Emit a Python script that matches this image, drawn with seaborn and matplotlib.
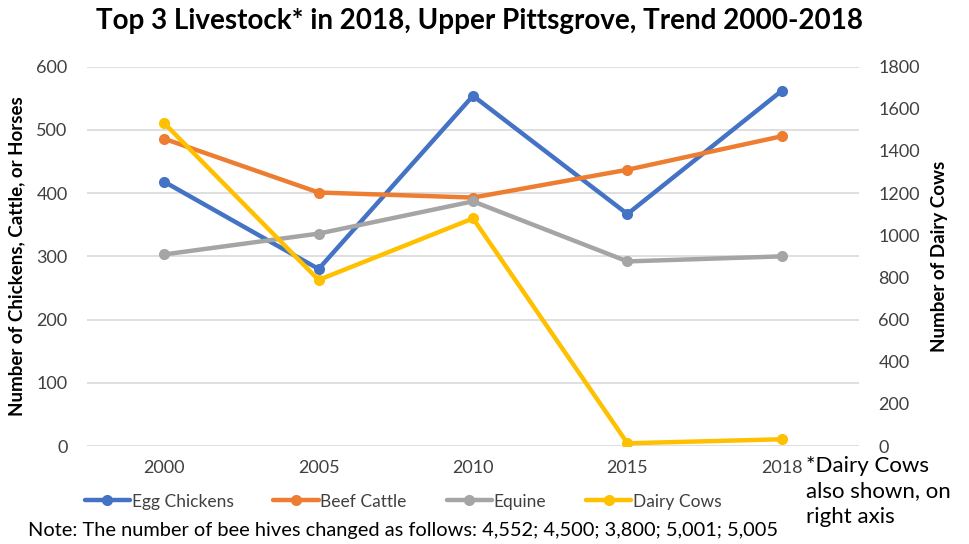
import matplotlib
matplotlib.use("Agg")
import matplotlib.pyplot as plt
import seaborn as sns
import pandas as pd

years = ["2000", "2005", "2010", "2015", "2018"]
egg_chickens = [418, 280, 554, 367, 562]
beef_cattle = [486, 401, 393, 437, 490]
equine = [303, 336, 387, 292, 300]
dairy_cows = [1532, 788, 1080, 13, 32]

left_series = {"Egg Chickens": egg_chickens, "Beef Cattle": beef_cattle, "Equine": equine}
colors = {"Egg Chickens": "#4472C4", "Beef Cattle": "#ED7D31", "Equine": "#A5A5A5", "Dairy Cows": "#FFC000"}

rows = []
for name, vals in left_series.items():
    for y, v in zip(years, vals):
        rows.append({"Year": y, "Value": v, "Series": name})
df_left = pd.DataFrame(rows)
df_right = pd.DataFrame({"Year": years, "Value": dairy_cows, "Series": "Dairy Cows"})

sns.set_theme(style="white")
FONT = ["Lato", "DejaVu Sans"]
plt.rcParams["font.family"] = FONT
TXT = "#404040"

fig = plt.figure(figsize=(9.69, 5.44), dpi=100)
ax = fig.add_axes([0.0898, 0.1801, 0.7967, 0.6973])
ax2 = ax.twinx()

sns.lineplot(data=df_left, x="Year", y="Value", hue="Series", palette=colors,
             marker="o", markersize=8, markeredgewidth=0, linewidth=3.2,
             sort=False, ax=ax, legend=False)
sns.lineplot(data=df_right, x="Year", y="Value", hue="Series", palette=colors,
             marker="o", markersize=8, markeredgewidth=0, linewidth=3.2,
             sort=False, ax=ax2, legend=False)

ax.set_xlim(-0.5, 4.5)
ax.set_ylim(0, 600)
ax.set_yticks(range(0, 601, 100))
ax2.set_ylim(0, 1800)
ax2.set_yticks(range(0, 1801, 200))
ax.yaxis.grid(True, color="#D9D9D9", linewidth=1.2)
ax.set_axisbelow(True)
for a in (ax, ax2):
    for s in a.spines.values():
        s.set_visible(False)
    a.tick_params(length=0, labelsize=13, labelcolor=TXT)
ax.tick_params(axis="x", pad=10)
ax.tick_params(axis="y", pad=14)
ax2.tick_params(axis="y", pad=14)
ax.set_xlabel("")
ax.set_ylabel("Number of Chickens, Cattle, or Horses", fontsize=13.5, fontweight="bold", color="black", labelpad=8)
ax2.set_ylabel("Number of Dairy Cows", fontsize=13.5, fontweight="bold", color="black", labelpad=8)

fig.text(0.495, 0.962, "Top 3 Livestock* in 2018, Upper Pittsgrove, Trend 2000-2018",
         ha="center", va="center", fontsize=20, fontweight="bold", color="black")

from matplotlib.lines import Line2D
handles = [Line2D([0], [0], color=colors[n], lw=3.2, marker="o", markersize=8, markeredgewidth=0)
           for n in ["Egg Chickens", "Beef Cattle", "Equine", "Dairy Cows"]]
leg = fig.legend(handles, ["Egg Chickens", "Beef Cattle", "Equine", "Dairy Cows"],
                 loc="center", bbox_to_anchor=(0.416, 0.078), ncol=4, frameon=False,
                 fontsize=12.5, handlelength=2.6, handletextpad=0.1, columnspacing=2.3)
for t in leg.get_texts():
    t.set_color(TXT)

fig.text(0.029, 0.025, "Note: The number of bee hives changed as follows: 4,552; 4,500; 3,800; 5,001; 5,005",
         ha="left", va="center", fontsize=14.4, color="black")
fig.text(0.832, 0.162, "*Dairy Cows\nalso shown, on\nright axis", ha="left", va="top",
         fontsize=16, color="black", linespacing=1.35)

fig.savefig("out.png", dpi=100)
